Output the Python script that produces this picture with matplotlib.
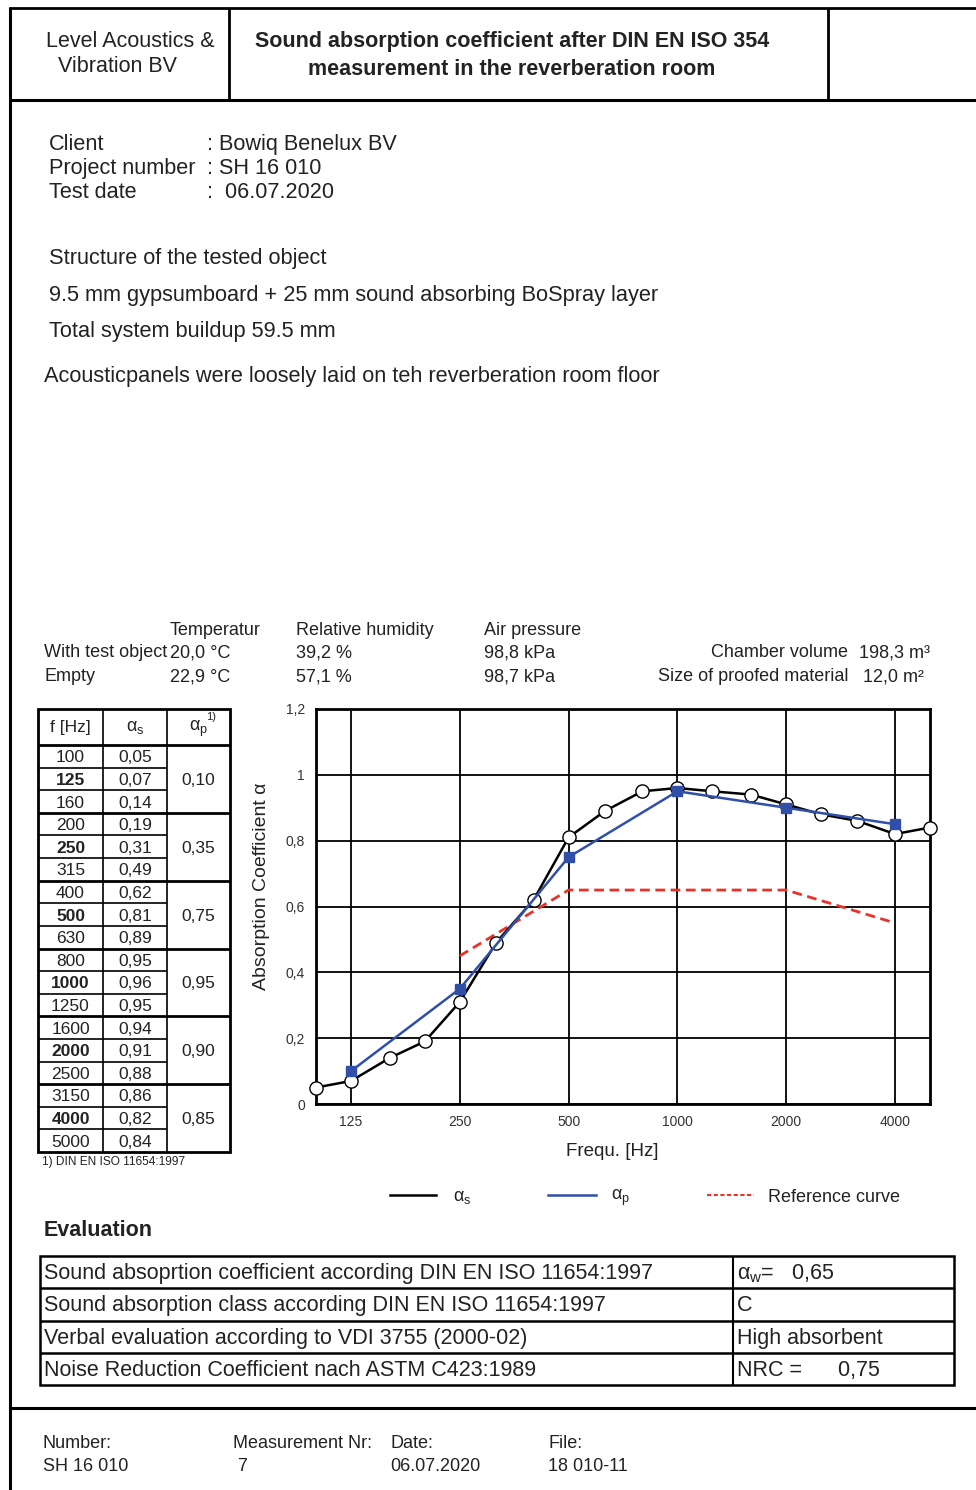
import numpy as np
import matplotlib.pyplot as plt

plt.rcParams['font.family'] = ['Liberation Sans', 'DejaVu Sans']
plt.rcParams['mathtext.fontset'] = 'custom'
plt.rcParams['mathtext.rm'] = 'Liberation Sans'
plt.rcParams['mathtext.it'] = 'Liberation Sans'
plt.rcParams['mathtext.bf'] = 'Liberation Sans:bold'

# measured values (third-octave bands)
freq = [100, 125, 160, 200, 250, 315, 400, 500, 630, 800, 1000, 1250,
        1600, 2000, 2500, 3150, 4000, 5000]
alpha_s = [0.05, 0.07, 0.14, 0.19, 0.31, 0.49, 0.62, 0.81, 0.89, 0.95, 0.96,
           0.95, 0.94, 0.91, 0.88, 0.86, 0.82, 0.84]
# practical absorption coefficient (octave bands)
oct_freq = [125, 250, 500, 1000, 2000, 4000]
alpha_p = [0.10, 0.35, 0.75, 0.95, 0.90, 0.85]
# shifted reference curve
ref_freq = [250, 500, 1000, 2000, 4000]
ref_curve = [0.45, 0.65, 0.65, 0.65, 0.55]
y_ticks = [0, 0.2, 0.4, 0.6, 0.8, 1.0, 1.2]

eval_left = ['Sound absoprtion coefficient according DIN EN ISO 11654:1997',
             'Sound absorption class according DIN EN ISO 11654:1997',
             'Verbal evaluation according to VDI 3755 (2000-02)',
             'Noise Reduction Coefficient nach ASTM C423:1989']
eval_right = [r'$\alpha_\mathrm{w}$=   0,65', 'C', 'High absorbent', 'NRC =      0,75']


def comma(v, nd=2):
    return f'{v:.{nd}f}'.replace('.', ',')


fig = plt.figure(figsize=(9.76, 14.9), dpi=100)
page = fig.add_axes([0, 0, 1, 1])
page.set_xlim(0, 976)
page.set_ylim(1490, 0)
page.axis('off')

TXT = '#222222'


def hline(y, x0, x1, lw=1.0):
    page.plot([x0, x1], [y, y], color='black', lw=lw, solid_capstyle='butt')


def vline(x, y0, y1, lw=1.0):
    page.plot([x, x], [y0, y1], color='black', lw=lw, solid_capstyle='butt')


def txt(x, y, s, size=13, **kw):
    kw.setdefault('va', 'center')
    kw.setdefault('color', TXT)
    # small nudge: va='center' includes the descender
    page.text(x, y + 1.5, s, fontsize=size, **kw)


# page frame
hline(8, 9, 976, 2.0)
hline(100, 9, 976, 2.2)
vline(10, 7, 1490, 2.2)
vline(229, 8, 100, 2.0)
vline(828, 8, 100, 2.0)
hline(1408, 9, 976, 2.2)

# header
txt(46, 40, 'Level Acoustics &', 15.5)
txt(58, 65, 'Vibration BV', 15.5)
txt(512, 40, 'Sound absorption coefficient after DIN EN ISO 354', 15.5,
    ha='center', weight='bold')
txt(512, 68, 'measurement in the reverberation room', 15.5,
    ha='center', weight='bold')

# client block
for y, a, b in [(143, 'Client', ': Bowiq Benelux BV'),
                (167, 'Project number', ': SH 16 010'),
                (191, 'Test date', ':  06.07.2020')]:
    txt(49, y, a, 15.6)
    txt(207, y, b, 15.6)

txt(49, 257, 'Structure of the tested object', 15.7)
txt(49, 294, '9.5 mm gypsumboard + 25 mm sound absorbing BoSpray layer', 15.7)
txt(49, 330, 'Total system buildup 59.5 mm', 15.7)
txt(44, 375, 'Acousticpanels were loosely laid on teh reverberation room floor', 15.7)

# measurement conditions
txt(170, 629, 'Temperatur', 13)
txt(296, 629, 'Relative humidity', 13)
txt(484, 629, 'Air pressure', 13)
txt(44, 651, 'With test object', 13)
txt(170, 651, '20,0 °C', 13)
txt(296, 651, '39,2 %', 13)
txt(484, 651, '98,8 kPa', 13)
txt(848, 651, 'Chamber volume', 13, ha='right')
txt(859, 651, '198,3 m³', 13)
txt(44, 675, 'Empty', 13)
txt(170, 675, '22,9 °C', 13)
txt(296, 675, '57,1 %', 13)
txt(484, 675, '98,7 kPa', 13)
txt(848, 675, 'Size of proofed material', 13, ha='right')
txt(863, 675, '12,0 m²', 13)

# values table
tx0, tx1, tx2, tx3 = 38, 103, 167, 230
ty0, ty1, ty_end = 709, 745, 1152
row_h = (ty_end - ty1) / len(freq)
page.add_patch(plt.Rectangle((tx0, ty0), tx3 - tx0, ty_end - ty0, fill=False,
                             lw=2.0, ec='black'))
hline(ty1, tx0, tx3, 2.0)
vline(tx1, ty0, ty_end, 1.2)
vline(tx2, ty0, ty_end, 1.2)
txt((tx0 + tx1) / 2, 726, 'f [Hz]', 12.5, ha='center')
txt((tx1 + tx2) / 2, 726, r'$\alpha_\mathrm{s}$', 13, ha='center')
txt((tx2 + tx3) / 2, 727, r'$\alpha_\mathrm{p}$', 13, ha='center')
txt(211, 716, '1)', 8, ha='center')
for i, (f, a) in enumerate(zip(freq, alpha_s)):
    yc = ty1 + (i + 0.5) * row_h
    bold = f in oct_freq
    txt((tx0 + tx1) / 2, yc, str(f), 12.5, ha='center',
        weight='bold' if bold else 'normal')
    txt((tx1 + tx2) / 2, yc, comma(a), 12.5, ha='center')
    if i < len(freq) - 1:
        yl = ty1 + (i + 1) * row_h
        if (i + 1) % 3 == 0:
            hline(yl, tx0, tx3, 2.0)
        else:
            hline(yl, tx0, tx2, 1.2)
for k, a in enumerate(alpha_p):
    yc = ty1 + (3 * k + 1.5) * row_h
    txt((tx2 + tx3) / 2, yc, comma(a), 12.5, ha='center')
txt(42, 1160, '1) DIN EN ISO 11654:1997', 8.6)

# chart
ax = fig.add_axes([316 / 976, 1 - 1104 / 1490, 614 / 976, 395 / 1490])
ax.set_xscale('log')
ax.set_xlim(100, 5000)
ax.set_ylim(0, 1.2)
ax.set_xticks(oct_freq)
ax.set_xticklabels([str(f) for f in oct_freq])
ax.xaxis.set_minor_locator(plt.NullLocator())
ax.set_yticks(y_ticks)
ax.set_yticklabels(['0' if v == 0 else ('1' if v == 1 else comma(v, 1)) for v in y_ticks])
ax.tick_params(length=0, labelsize=10, labelcolor='#333333')
ax.tick_params(axis='y', pad=8)
ax.tick_params(axis='x', pad=8)
ax.grid(True, color='black', lw=1.3)
for sp in ax.spines.values():
    sp.set_linewidth(2.0)

ax.plot(ref_freq, ref_curve, color='#e8322a', lw=2.0, ls=(0, (3.5, 2)), zorder=3)
ax.plot(freq, alpha_s, color='black', lw=1.8, marker='o', ms=9.5,
        mfc='white', mec='black', mew=1.0, zorder=4, clip_on=False)
ax.plot(oct_freq, alpha_p, color='#2f4fa8', lw=1.8, marker='s', ms=6.5,
        mfc='#2f4fa8', mec='#2f4fa8', zorder=5, clip_on=False)

txt(262, 885, 'Absorption Coefficient α', 14, ha='center', rotation=90)
txt(612, 1150, 'Frequ. [Hz]', 13.5, ha='center')

# legend
page.plot([390, 436], [1195, 1195], color='black', lw=1.8)
txt(453, 1196, r'$\alpha_\mathrm{s}$', 13)
page.plot([548, 596], [1195, 1195], color='#2f4fa8', lw=1.8)
txt(611, 1196, r'$\alpha_\mathrm{p}$', 13)
page.plot([707, 754], [1195, 1195], color='#e8322a', lw=1.5, ls=(0, (2, 1.2)))
txt(768, 1196, 'Reference curve', 13)

# evaluation
txt(44, 1229, 'Evaluation', 15.5, weight='bold')
ex0, ex1, ex2 = 40, 733, 954
ey0, ey1 = 1256, 1385
eh = (ey1 - ey0) / len(eval_left)
page.add_patch(plt.Rectangle((ex0, ey0), ex2 - ex0, ey1 - ey0, fill=False,
                             lw=1.8, ec='black'))
vline(ex1, ey0, ey1, 1.5)
for i, (a, b) in enumerate(zip(eval_left, eval_right)):
    yc = ey0 + (i + 0.5) * eh
    if i > 0:
        hline(ey0 + i * eh, ex0, ex2, 1.8)
    txt(44, yc, a, 15.5)
    txt(737, yc, b, 15.5)

# footer
for x, a, b in [(43, 'Number:', 'SH 16 010'),
                (233, 'Measurement Nr:', ' 7'),
                (390, 'Date:', '06.07.2020'),
                (548, 'File:', '18 010-11')]:
    txt(x, 1442, a, 13)
    txt(x, 1465, b, 13)

fig.savefig('out.png', dpi=100)
